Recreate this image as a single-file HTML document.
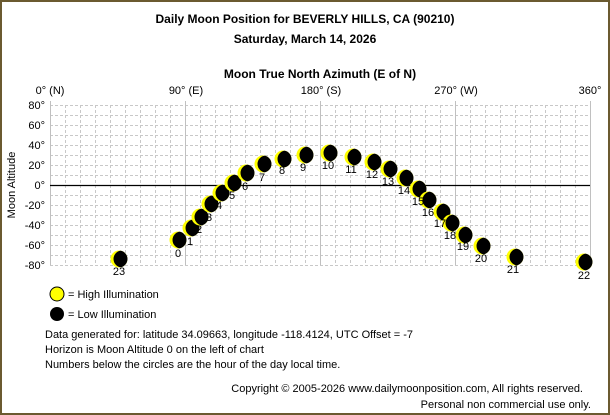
<!DOCTYPE html>
<html><head><meta charset="utf-8"><style>
html,body{margin:0;padding:0;background:#fff}
svg{display:block}
text{font-family:"Liberation Sans",sans-serif;font-size:11px;fill:#000}
.b{font-weight:bold;font-size:12px}
</style></head><body>
<svg width="610" height="415" viewBox="0 0 610 415">
<defs>
<clipPath id="c"><circle r="8.5"/></clipPath>
<g id="m"><circle r="8.5" fill="#ffff00"/><circle cx="3" r="8.5" fill="#000" clip-path="url(#c)"/></g>
</defs>
<rect x="1" y="1" width="608" height="413" fill="#fff" stroke="#6b5a30" stroke-width="2"/>
<text class="b" x="305" y="23" text-anchor="middle">Daily Moon Position for BEVERLY HILLS, CA (90210)</text>
<text class="b" x="305" y="43" text-anchor="middle">Saturday, March 14, 2026</text>
<text class="b" x="320" y="78" text-anchor="middle">Moon True North Azimuth (E of N)</text>
<g text-anchor="middle">
<text x="50" y="94">0° (N)</text><text x="186" y="94">90° (E)</text><text x="321" y="94">180° (S)</text><text x="456" y="94">270° (W)</text><text x="590" y="94">360°</text>
</g>
<g stroke="#c8c8c8" stroke-width="1" stroke-dasharray="3,2">
<path d="M65.5 105V265M80.5 105V265M95.5 105V265M110.5 105V265M125.5 105V265M140.5 105V265M155.5 105V265M170.5 105V265M200.5 105V265M215.5 105V265M230.5 105V265M245.5 105V265M260.5 105V265M275.5 105V265M290.5 105V265M305.5 105V265M335.5 105V265M350.5 105V265M365.5 105V265M380.5 105V265M395.5 105V265M410.5 105V265M425.5 105V265M440.5 105V265M470.5 105V265M485.5 105V265M500.5 105V265M515.5 105V265M530.5 105V265M545.5 105V265M560.5 105V265M575.5 105V265"/>
<path d="M50 105.5H590M50 115.5H590M50 125.5H590M50 135.5H590M50 145.5H590M50 155.5H590M50 165.5H590M50 175.5H590M50 195.5H590M50 205.5H590M50 215.5H590M50 225.5H590M50 235.5H590M50 245.5H590M50 255.5H590M50 265.5H590"/>
</g>
<g stroke="#c0c0c0"><path d="M50.5 101V265M185.5 101V265M320.5 101V265M455.5 101V265M590.5 101V265"/></g>
<path d="M50 185.5H590" stroke="#000" stroke-width="1.2"/>
<g text-anchor="end">
<text x="45" y="109">80°</text><text x="45" y="129">60°</text><text x="45" y="149">40°</text><text x="45" y="169">20°</text><text x="45" y="189">0°</text><text x="45" y="209">-20°</text><text x="45" y="229">-40°</text><text x="45" y="249">-60°</text><text x="45" y="269">-80°</text>
</g>
<text x="0" y="0" transform="translate(15,185) rotate(-90)" text-anchor="middle">Moon Altitude</text>
<g>
<use href="#m" x="119" y="259"/><use href="#m" x="178" y="240"/><use href="#m" x="191" y="228"/><use href="#m" x="200" y="217"/><use href="#m" x="210" y="204"/><use href="#m" x="221" y="193"/><use href="#m" x="233" y="183"/><use href="#m" x="246" y="173"/><use href="#m" x="263" y="164"/><use href="#m" x="283" y="159"/><use href="#m" x="305" y="155"/><use href="#m" x="329" y="153"/><use href="#m" x="353" y="157"/><use href="#m" x="373" y="162"/><use href="#m" x="389" y="169"/><use href="#m" x="405" y="178"/><use href="#m" x="418" y="189"/><use href="#m" x="428" y="200"/><use href="#m" x="442" y="212"/><use href="#m" x="451" y="223"/><use href="#m" x="464" y="235"/><use href="#m" x="482" y="246"/><use href="#m" x="515" y="257"/><use href="#m" x="584" y="262"/>
</g>
<g text-anchor="middle">
<text x="119" y="275">23</text><text x="178" y="257">0</text><text x="190" y="245">1</text><text x="199" y="233">2</text><text x="209" y="221">3</text><text x="219" y="209">4</text><text x="232" y="199">5</text><text x="245" y="190">6</text><text x="262" y="181">7</text><text x="282" y="174">8</text><text x="303" y="171">9</text><text x="328" y="169">10</text><text x="351" y="173">11</text><text x="372" y="178">12</text><text x="388" y="185">13</text><text x="404" y="194">14</text><text x="418" y="205">15</text><text x="428" y="216">16</text><text x="440" y="227">17</text><text x="450" y="239">18</text><text x="463" y="250">19</text><text x="481" y="262">20</text><text x="513" y="273">21</text><text x="584" y="279">22</text>
</g>
<circle cx="57" cy="294" r="7" fill="#ffff00" stroke="#000" stroke-width="1"/>
<circle cx="57" cy="314" r="7" fill="#000"/>
<text x="68" y="298">= High Illumination</text>
<text x="68" y="318">= Low Illumination</text>
<text x="45" y="338">Data generated for: latitude 34.09663, longitude -118.4124, UTC Offset = -7</text>
<text x="45" y="353">Horizon is Moon Altitude 0 on the left of chart</text>
<text x="45" y="368">Numbers below the circles are the hour of the day local time.</text>
<text x="583" y="392" text-anchor="end">Copyright © 2005-2026 www.dailymoonposition.com, All rights reserved.</text>
<text x="591" y="408" text-anchor="end">Personal non commercial use only.</text>
</svg>
</body></html>
